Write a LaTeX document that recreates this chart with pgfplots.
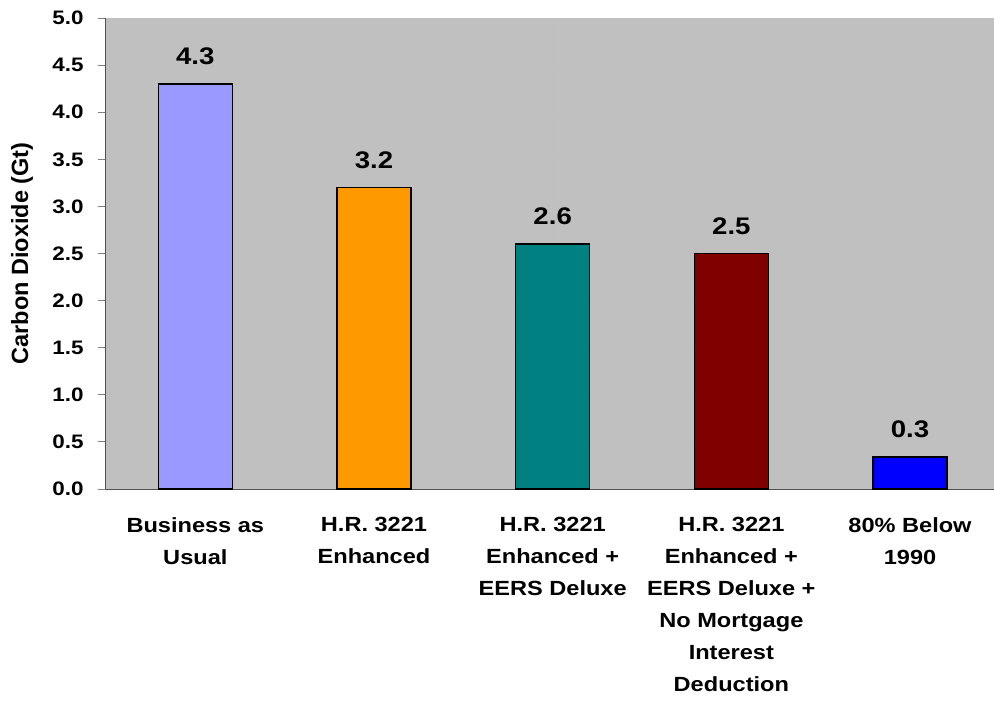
\documentclass[border=0pt]{standalone}
\usepackage{fontspec}
\setmainfont{Liberation Sans}
\newfontfamily\wide[FakeStretch=1.15]{Liberation Sans}
\usepackage{pgfplots}
\pgfplotsset{compat=1.18}

\definecolor{bgray}{HTML}{C0C0C0}
\definecolor{grid}{HTML}{505050}
\definecolor{c1}{HTML}{9999FF}
\definecolor{c2}{HTML}{FF9900}
\definecolor{c3}{HTML}{008080}
\definecolor{c4}{HTML}{800000}
\definecolor{c5}{HTML}{0000FF}

\begin{document}
\fontsize{20}{32}\selectfont\bfseries
\begin{tikzpicture}
\useasboundingbox (-106pt,-213pt) rectangle (888pt,489pt);
\begin{axis}[
  at={(0,0)}, anchor=south west,
  scale only axis,
  width=888pt, height=471pt,
  xmin=-0.5, xmax=4.47,
  ymin=0, ymax=5,
  axis lines*=left,
  axis line style={grid, line width=1pt},
  axis background/.style={fill=bgray},
  ybar, bar width=74pt, bar shift=0pt,
  ytick={0,0.5,...,5},
  yticklabel={\pgfmathprintnumber[fixed,fixed zerofill,precision=1]{\tick}},
  y tick label style={font=\wide\fontsize{19.5}{24}\selectfont\bfseries},
  yticklabel shift=7.5pt,
  /pgf/number format/assume math mode=true,
  ymajorgrids,
  major grid style={grid, line width=1pt},
  tick align=outside,
  major tick length=8pt,
  minor tick length=8pt,
  tick style={grid, line width=1pt},
  xtick={0,1,2,3,4},
  xtick style={draw=none},
  minor xtick={-0.5,0.5,1.5,2.5,3.5},
  minor tick style={grid, line width=1pt},
  xticklabels={{Business as\\Usual},{H.R. 3221\\Enhanced},{H.R. 3221\\Enhanced +\\EERS Deluxe},{H.R. 3221\\Enhanced +\\EERS Deluxe +\\No Mortgage\\Interest\\Deduction},{80\% Below\\1990}},
  xticklabel style={align=center, font=\wide\fontsize{20.5}{32}\selectfont\bfseries, yshift=-13.5pt},
  ylabel={Carbon Dioxide (Gt)},
  every axis y label/.style={at={(axis description cs:-0.0946,0.5)}, rotate=90, anchor=center,
    font=\fontsize{23.5}{26}\selectfont\bfseries},
  nodes near coords,
  nodes near coords style={font=\wide\fontsize{24}{26}\selectfont\bfseries, anchor=base, yshift=19.5pt,
    /pgf/number format/fixed, /pgf/number format/precision=1, /pgf/number format/fixed zerofill},
]
\addplot[fill=c1, draw=black, line width=1.5pt] coordinates {(0,4.3)};
\addplot[fill=c2, draw=black, line width=1.5pt] coordinates {(1,3.2)};
\addplot[fill=c3, draw=black, line width=1.5pt] coordinates {(2,2.6)};
\addplot[fill=c4, draw=black, line width=1.5pt] coordinates {(3,2.5)};
\addplot[fill=c5, draw=black, line width=1.5pt] coordinates {(4,0.34)};
\end{axis}
\end{tikzpicture}
\end{document}
